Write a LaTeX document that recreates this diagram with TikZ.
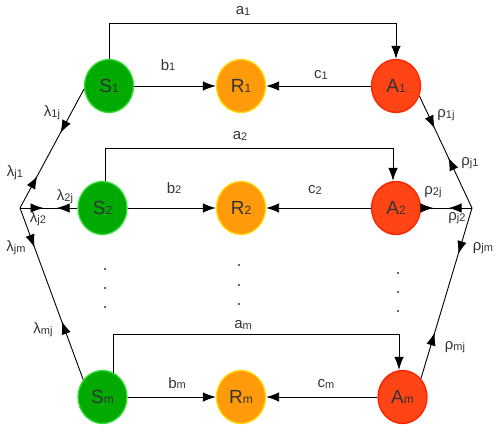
\documentclass[tikz,border=0pt]{standalone}
\usepackage{fontspec}
\setmainfont{Liberation Sans}
\usetikzlibrary{arrows.meta,decorations.markings,shapes.geometric}
\definecolor{sfill}{HTML}{00AA00}
\definecolor{sline}{HTML}{33DD33}
\definecolor{rfill}{HTML}{FF9A0A}
\definecolor{rline}{HTML}{FFD800}
\definecolor{afill}{HTML}{FF4516}
\definecolor{aline}{HTML}{FF2200}
\definecolor{txt}{HTML}{333333}
\newcommand{\nsub}[2]{#1\raisebox{-0.5pt}{\fontsize{12}{12}\selectfont #2}}
\newcommand{\lsub}[2]{#1\raisebox{-0.8pt}{\fontsize{11}{11}\selectfont #2}}
\tikzset{
  state/.style={ellipse, minimum width=49pt, minimum height=53pt, inner sep=0pt,
    line width=1.3pt, text=txt, font=\fontsize{19}{19}\selectfont},
  snode/.style={state, fill=sfill, draw=sline},
  rnode/.style={state, fill=rfill, draw=rline},
  anode/.style={state, fill=afill, draw=aline},
  lab/.style={text=txt, font=\fontsize{15}{15}\selectfont, inner sep=0pt},
  tip/.tip={Latex[length=13pt,width=9.5pt]},
  conn/.style={line width=0.9pt, -tip},
  link/.style={line width=0.9pt},
  twoway/.style n args={2}{postaction={decorate}, decoration={markings,
    mark=at position #1 with {\arrow{tip}},
    mark=at position #2 with {\arrowreversed{tip}}}},
  dot/.style={fill=txt}
}
\begin{document}
\begin{tikzpicture}[x=1pt,y=-1pt]
\useasboundingbox (0,0) rectangle (502,444);
% nodes
\node[snode] (S1) at (109,86) {\nsub{S}{1}};
\node[rnode] (R1) at (241,86) {\nsub{R}{1}};
\node[anode] (A1) at (396,86) {\nsub{A}{1}};
\node[snode] (S2) at (102.5,208) {\nsub{S}{2}};
\node[rnode] (R2) at (241,208) {\nsub{R}{2}};
\node[anode] (A2) at (396,208) {\nsub{A}{2}};
\node[snode] (Sm) at (102.5,397) {\nsub{S}{m}};
\node[rnode] (Rm) at (241,397) {\nsub{R}{m}};
\node[anode] (Am) at (402.5,397) {\nsub{A}{m}};
\coordinate (J) at (20,208);
\coordinate (K) at (472,208);
% horizontal connectors
\draw[conn] (S1) -- (R1);
\draw[conn] (A1) -- (R1);
\draw[conn] (S2) -- (R2);
\draw[conn] (A2) -- (R2);
\draw[conn] (Sm) -- (Rm);
\draw[conn] (Am) -- (Rm);
% top connectors
\draw[conn] (S1.north) -- (S1.north |- 0,23) -| (A1.north);
\draw[conn] ([xshift=2.5pt]S2.north) -- ([xshift=2.5pt]S2.north |- 0,148) -| ([xshift=-3pt]A2.north);
\draw[conn] (Sm.66) -- (Sm.66 |- 0,334) -| ([xshift=-3.5pt]Am.north);
% left side
\draw[link, twoway={0.37}{0.73}] (S1.187) -- (J);
\draw[link, twoway={0.41}{0.64}] (J) -- (S2.west);
\draw[link, twoway={0.23}{0.66}] (J) -- (Sm.138);
% right side
\draw[link, twoway={0.29}{0.55}] (A1.-23) -- (K);
\draw[link, twoway={0.46}{0.76}] (K) -- (A2.east);
\draw[link, twoway={0.27}{0.73}] (K) -- (Am.45);
% labels
\node[lab] (la1) at (243,11) {\lsub{a}{1}};
\node[lab] (lb1) at (168,65) {\lsub{b}{1}};
\node[lab] (lc1) at (321,75) {\lsub{c}{1}};
\node[lab] (la2) at (240,136) {\lsub{a}{2}};
\node[lab] (lb2) at (174,188) {\lsub{b}{2}};
\node[lab] (lc2) at (315,190) {\lsub{c}{2}};
\node[lab] (lam) at (243,325) {\lsub{a}{m}};
\node[lab] (lbm) at (177,383) {\lsub{b}{m}};
\node[lab] (lcm) at (326,384) {\lsub{c}{m}};
\node[lab] (l1j) at (52,113) {\lsub{λ}{1j}};
\node[lab] (lj1) at (15,173) {\lsub{λ}{j1}};
\node[lab] (l2j) at (65,197) {\lsub{λ}{2j}};
\node[lab] (lj2) at (38,219) {\lsub{λ}{j2}};
\node[lab] (ljm) at (16,248) {\lsub{λ}{jm}};
\node[lab] (lmj) at (43,330) {\lsub{λ}{mj}};
\node[lab] (r1j) at (446,115) {\lsub{ρ}{1j}};
\node[lab] (rj1) at (470,163) {\lsub{ρ}{j1}};
\node[lab] (r2j) at (433,192) {\lsub{ρ}{2j}};
\node[lab] (rj2) at (457,218) {\lsub{ρ}{j2}};
\node[lab] (rjm) at (483,248) {\lsub{ρ}{jm}};
\node[lab] (rmj) at (455,347) {\lsub{ρ}{mj}};
% dots
\foreach \y in {269,288,307} \fill[dot] (105,\y) circle (1.1pt);
\foreach \y in {265,285,304} \fill[dot] (239,\y) circle (1.1pt);
\foreach \y in {273,292,311} \fill[dot] (398,\y) circle (1.1pt);
\end{tikzpicture}
\end{document}
